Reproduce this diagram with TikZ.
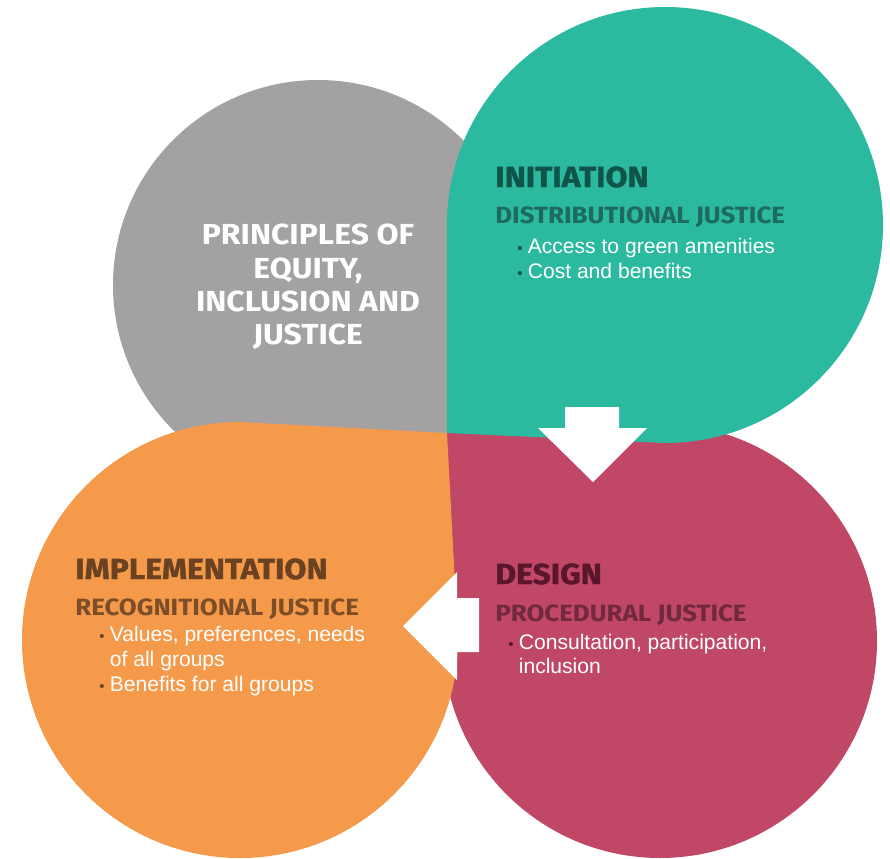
\documentclass[tikz,border=0pt]{standalone}
\usepackage{fontspec}
\setmainfont{Liberation Sans}
\newfontfamily\headfont{Fira Sans}[FakeStretch=1.1]
\newfontfamily\phasefont{Fira Sans}[FakeStretch=1.1, FakeBold=1.4]
\usetikzlibrary{positioning}

\definecolor{petalgray}{HTML}{A3A1A2}
\definecolor{petalteal}{HTML}{2BB9A0}
\definecolor{petalred}{HTML}{C04866}
\definecolor{petalorange}{HTML}{F59A4A}
\definecolor{tealdark}{HTML}{0F5449}
\definecolor{tealmid}{HTML}{1C6B5E}
\definecolor{reddark}{HTML}{5A172B}
\definecolor{redmid}{HTML}{72283E}
\definecolor{orangedark}{HTML}{6A4221}
\definecolor{orangemid}{HTML}{7C4D26}

\newcommand{\itm}[1]{{\color{#1}\fontsize{8.5}{8}\selectfont\textbullet}\hspace{3pt}}

\begin{document}
\begin{tikzpicture}[
    x=0.02cm, y=0.02cm,
    phase/.style = {font=\phasefont\fontsize{16.5}{18}\selectfont\bfseries, anchor=base west, inner sep=0pt},
    justice/.style = {font=\headfont\fontsize{13.4}{15}\selectfont\bfseries, anchor=base west, inner sep=0pt},
    items/.style = {font=\fontsize{12}{14.2}\selectfont, text=white, anchor=base west, inner sep=0pt},
    blockarrow/.style = {fill=white}
    ]
    \useasboundingbox (0,0) rectangle (890,-859);

    % petals
    \fill[petalgray] (447,-433) -- (318,-490) arc[start angle=-90, end angle=-360, radius=205] -- cycle;
    \fill[petalred] (447,-433) -- (443,-641) arc[start angle=180, end angle=450, radius=217] -- cycle;
    \fill[petalorange] (447,-433) -- (240,-422) arc[start angle=90, end angle=360, radius=218] -- cycle;
    \fill[petalteal] (447,-433) -- (665,-443) arc[start angle=-90, end angle=180, radius=218] -- cycle;

    % arrows
    \fill[blockarrow] (565,-407) -- (619,-407) -- (619,-428) -- (647,-428) -- (593,-482) -- (538,-428) -- (565,-428) -- cycle;
    \fill[blockarrow] (479,-598) -- (479,-652) -- (457,-652) -- (457,-680) -- (403,-626) -- (457,-572) -- (457,-598) -- cycle;

    \node[text=white, align=center, font=\headfont\fontsize{16.5}{19}\selectfont\bfseries] (principles) at (308,-287) {PRINCIPLES OF\\EQUITY,\\INCLUSION AND\\JUSTICE};

    \node[phase, text=tealdark] (initiation) at (495,-187) {INITIATION};
    \node[below=20.5pt of initiation.base west, justice, text=tealmid] (distributional) {DISTRIBUTIONAL JUSTICE};
    \node[below right=17.6pt and 12.5pt of distributional.base west, items] (distitems) {\begin{tabular}[t]{@{}l@{}}\itm{tealdark}Access to green amenities\\\itm{tealdark}Cost and benefits\end{tabular}};

    \node[phase, text=reddark] (design) at (495,-584) {DESIGN};
    \node[below=21.6pt of design.base west, justice, text=redmid] (procedural) {PROCEDURAL JUSTICE};
    \node[below right=15.4pt and 7.4pt of procedural.base west, items] (procitems) {\begin{tabular}[t]{@{}l@{}}\itm{reddark}Consultation, participation,\\\hphantom{\itm{reddark}}inclusion\end{tabular}};

    \node[phase, text=orangedark] (implementation) at (75,-579) {IMPLEMENTATION};
    \node[below=21pt of implementation.base west, justice, text=orangemid] (recognitional) {RECOGNITIONAL JUSTICE};
    \node[below right=14.8pt and 13.7pt of recognitional.base west, items] (recogitems) {\begin{tabular}[t]{@{}l@{}}\itm{orangedark}Values, preferences, needs\\\hphantom{\itm{orangedark}}of all groups\\\itm{orangedark}Benefits for all groups\end{tabular}};
\end{tikzpicture}
\end{document}
